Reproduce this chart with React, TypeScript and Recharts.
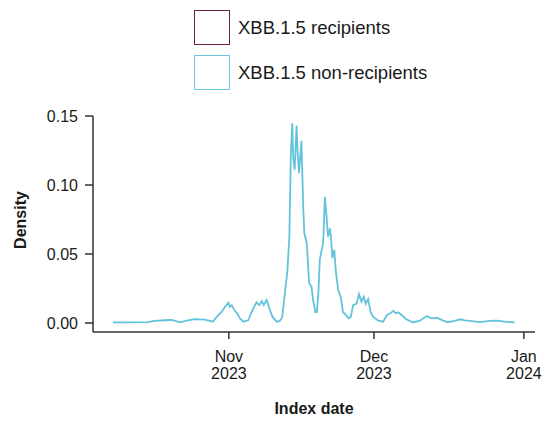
import { LineChart, Line, XAxis, YAxis } from 'recharts'

// days counted from 1 Oct 2023 (Nov 1 = 31, Dec 1 = 61, Jan 1 = 92)
const dayOffsets = [
  7.0, 10.5, 14.2, 15.7, 17.8, 19.2, 20.9, 22.5, 24.0, 26.0, 27.7, 28.8, 29.5,
  30.2, 30.9, 31.2, 31.6, 32.1, 32.7, 33.3, 34.0, 35.0, 35.7, 36.7, 37.3, 37.8,
  38.2, 38.8, 39.5, 40.0, 40.9, 41.5, 42.0, 42.6, 43.1, 43.5, 43.7, 43.8, 44.1,
  44.3, 44.6, 45.0, 45.2, 45.5, 46.0, 46.4, 46.6, 47.1, 47.6, 48.1, 48.4, 48.9,
  49.2, 49.5, 49.8, 50.2, 50.5, 50.85, 51.2, 51.5, 51.9, 52.1, 52.4, 52.8, 53.1,
  53.6, 54.1, 54.6, 55.2, 55.7, 56.2, 56.7, 57.4, 57.9, 58.4, 58.9, 59.3, 59.8,
  60.3, 60.8, 61.9, 62.9, 63.7, 64.4, 65.0, 65.5, 66.0, 66.7, 67.7, 69.1, 70.5,
  71.9, 72.9, 74.0, 75.3, 76.3, 77.7, 78.8, 79.8, 80.8, 82.9, 85.0, 86.4, 88.1,
  90.1,
]

const nonRecipientDensity = [
  0.0005, 0.0005, 0.0007, 0.0015, 0.002, 0.0022, 0.0005, 0.002, 0.0028, 0.0025,
  0.001, 0.0058, 0.008, 0.0118, 0.0147, 0.0118, 0.013, 0.0094, 0.007, 0.0034,
  0.001, 0.002, 0.008, 0.015, 0.013, 0.016, 0.013, 0.0167, 0.0094, 0.0046,
  0.001, 0.0015, 0.004, 0.022, 0.038, 0.0625, 0.1, 0.121, 0.1447, 0.12, 0.111,
  0.143, 0.125, 0.1085, 0.132, 0.081, 0.065, 0.058, 0.029, 0.026, 0.0167,
  0.008, 0.008, 0.0216, 0.046, 0.053, 0.058, 0.0915, 0.077, 0.0625, 0.0686,
  0.0625, 0.047, 0.053, 0.038, 0.024, 0.019, 0.008, 0.0058, 0.0034, 0.0045,
  0.013, 0.014, 0.021, 0.0155, 0.019, 0.014, 0.0174, 0.008, 0.0046, 0.0017,
  0.001, 0.0058, 0.007, 0.0089, 0.007, 0.0078, 0.0058, 0.0027, 0.0004, 0.0017,
  0.005, 0.0034, 0.0038, 0.0017, 0.0006, 0.0015, 0.0027, 0.002, 0.0015, 0.0006,
  0.0015, 0.0017, 0.001, 0.0004,
]

const xTicks = [31, 61, 92]
const tickMonths = ['Nov', 'Dec', 'Jan']
const tickYears = ['2023', '2023', '2024']
const yTicks = [0, 0.05, 0.1, 0.15]

const legendLabels = ['XBB.1.5 recipients', 'XBB.1.5 non-recipients']
const legendColors = ['#6e1f3c', '#6cc8de']

const data = dayOffsets.map((day, i) => ({ day, density: nonRecipientDensity[i] }))

const FONT = '"Liberation Sans", Arial, sans-serif'

function DateTick(props: any) {
  const { x, y, payload } = props
  const i = xTicks.indexOf(payload.value)
  return (
    <g>
      <text x={x} y={y + 23} textAnchor="middle" fontSize={16} fill="#1a1a1a" fontFamily={FONT}>
        {tickMonths[i]}
      </text>
      <text x={x} y={y + 40} textAnchor="middle" fontSize={16} fill="#1a1a1a" fontFamily={FONT}>
        {tickYears[i]}
      </text>
    </g>
  )
}

export default function App() {
  return (
    <div style={{ position: 'absolute', left: 0, top: 0, width: 547, height: 421, background: '#fff', fontFamily: FONT }}>
      {/* legend */}
      {legendLabels.map((label, i) => (
        <div
          key={label}
          style={{
            position: 'absolute',
            left: 194,
            top: 10 + i * 45,
            display: 'flex',
            alignItems: 'center',
          }}
        >
          <div
            style={{
              width: 34,
              height: 33,
              border: `1.5px solid ${legendColors[i]}`,
              background: '#fff',
            }}
          />
          <span style={{ marginLeft: 8, fontSize: 18.5, color: '#1a1a1a' }}>{label}</span>
        </div>
      ))}

      <div style={{ position: 'absolute', left: 0, top: 0 }}>
        <LineChart width={547} height={421} data={data} margin={{ top: 116, right: 12, left: 0, bottom: 0 }}>
          <XAxis
            type="number"
            dataKey="day"
            domain={[2.9, 94.3]}
            ticks={xTicks}
            allowDataOverflow
            height={89}
            stroke="#333"
            strokeWidth={1.5}
            tickSize={7}
            tickMargin={0}
            tick={<DateTick />}
            label={(p: any) => (
              <text
                x={p.viewBox.x + p.viewBox.width / 2}
                y={p.viewBox.y + 82}
                textAnchor="middle"
                fontSize={16}
                fontWeight="bold"
                fill="#1a1a1a"
                fontFamily={FONT}
              >
                Index date
              </text>
            )}
          />
          <YAxis
            type="number"
            domain={[-0.0065, 0.15]}
            ticks={yTicks}
            allowDataOverflow
            width={93}
            stroke="#333"
            strokeWidth={1.5}
            tickSize={8}
            tickMargin={7}
            tickFormatter={(v: number) => v.toFixed(2)}
            tick={{ fontSize: 16, fill: '#1a1a1a', fontFamily: FONT }}
            label={(p: any) => (
              <text
                x={26}
                y={p.viewBox.y + p.viewBox.height / 2 - 4}
                textAnchor="middle"
                fontSize={16}
                fontWeight="bold"
                fill="#1a1a1a"
                fontFamily={FONT}
                transform={`rotate(-90 26 ${p.viewBox.y + p.viewBox.height / 2 - 4})`}
              >
                Density
              </text>
            )}
          />
          <Line
            type="linear"
            dataKey="density"
            stroke="#63c3da"
            strokeWidth={1.8}
            dot={false}
            isAnimationActive={false}
          />
        </LineChart>
      </div>
    </div>
  )
}
